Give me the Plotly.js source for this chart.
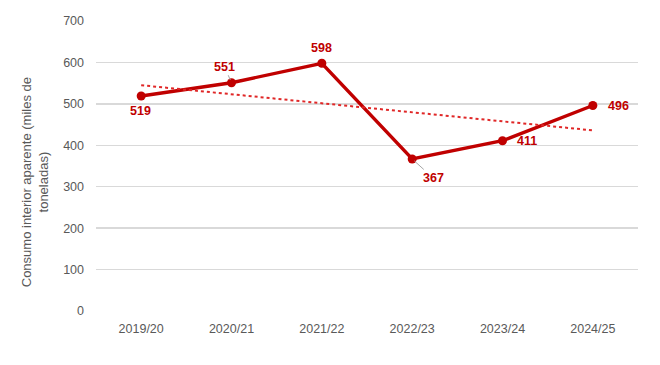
<!DOCTYPE html>
<html><head><meta charset="utf-8">
<script src="https://cdn.plot.ly/plotly-3.0.1.min.js"></script>
<style>html,body{margin:0;padding:0;background:#fff}#chart{width:660px;height:365px}</style>
</head><body><div id="chart"></div>
<script>
var categories = ["2019/20","2020/21","2021/22","2022/23","2023/24","2024/25"];
var values = [519, 551, 598, 367, 411, 496];
var trendX = ["2019/20","2024/25"];
var trendValues = [545, 436];
var yTicks = [0,100,200,300,400,500,600,700];
var yTitle = "Consumo interior aparente (miles de<br>toneladas)";

// label offsets in px: [x, y] (y positive = up on screen); leader = show a small gray leader line
var labelShift = [[-1,-15],[-7,16],[0,15],[21,-19],[24,0],[26,0]];
var leader = [false, true, false, true, false, false];

var red = "#c00000";
var fontFam = "Liberation Sans, Arial, sans-serif";
var traces = [
  {x: categories, y: values, mode: "lines+markers", line: {color: red, width: 3.4}, marker: {color: red, size: 9}},
  {x: trendX, y: trendValues, mode: "lines", line: {color: "#e02828", width: 2, dash: "dot"}, hoverinfo: "skip"}
];
var annotations = categories.map(function(c, i){
  var a = {x: c, y: values[i], text: String(values[i]),
    font: {family: fontFam, size: 12.5, color: red, weight: "bold"}};
  if (leader[i]) {
    a.showarrow = true; a.arrowhead = 0; a.arrowwidth = 1; a.arrowcolor = "#a6a6a6";
    a.ax = labelShift[i][0]; a.ay = -labelShift[i][1]; a.standoff = 3;
  } else {
    a.showarrow = false; a.xshift = labelShift[i][0]; a.yshift = labelShift[i][1];
  }
  return a;
});
annotations.push({xref: "paper", yref: "paper", x: -0.112, y: 0.445, xanchor: "center", yanchor: "middle",
  textangle: -90, showarrow: false, text: yTitle,
  font: {family: fontFam, size: 13, color: "#595959"}});
var layout = {
  width: 660, height: 365,
  margin: {l: 96, r: 22, t: 21, b: 54},
  paper_bgcolor: "#fff", plot_bgcolor: "#fff",
  showlegend: false,
  font: {family: fontFam, color: "#595959", size: 12},
  xaxis: {type: "category", categoryorder: "array", categoryarray: categories, range: [-0.5, 5.5],
    showgrid: false, zeroline: false, showline: false, ticks: "", ticklabelstandoff: 8,
    tickfont: {size: 12.5, color: "#595959"}},
  yaxis: {range: [0, 700], tickvals: yTicks, showgrid: true, gridcolor: "#d9d9d9", gridwidth: 1.3,
    zeroline: false, showline: false, ticks: "", ticklabelstandoff: 11,
    tickfont: {size: 12.5, color: "#595959"}},
  annotations: annotations
};
Plotly.newPlot("chart", traces, layout, {displayModeBar: false, staticPlot: true});
</script></body></html>
